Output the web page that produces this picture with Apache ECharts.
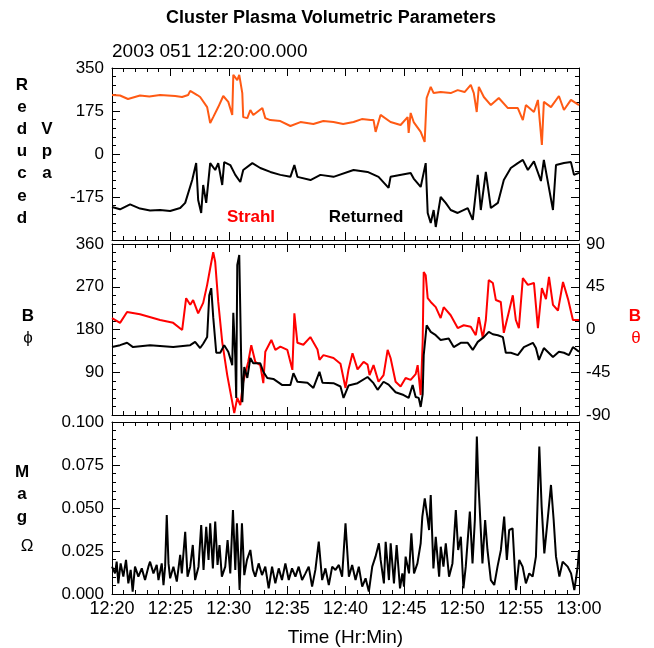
<!DOCTYPE html>
<html>
<head>
<meta charset="utf-8">
<script src="https://cdn.jsdelivr.net/npm/echarts@6/dist/echarts.min.js"></script>
<style>
  html, body { margin: 0; padding: 0; background: #fff; }
  #chart { width: 654px; height: 648px; }
</style>
</head>
<body>
<div id="chart"></div>
<script>
// minutes after 12:20:00
const timeTicks = ['12:20', '12:25', '12:30', '12:35', '12:40', '12:45', '12:50', '12:55', '13:00'];

// Reduced Vpa, strahl electrons
const strahlTime = [0.00, 0.69, 1.37, 2.40, 3.20, 4.12, 5.41, 6.00, 6.52, 6.70, 7.30, 7.55, 8.15, 8.41, 8.67, 9.10, 9.53, 9.96, 10.30,
  10.39, 10.56, 10.73, 10.90, 11.16, 11.24, 11.59, 11.85, 12.10, 12.88, 13.13, 13.56, 14.42, 15.28, 16.14, 17.25, 18.10, 18.97,
  19.80, 20.69, 21.40, 22.15, 22.40, 22.58, 23.00, 23.86, 24.72, 25.32, 25.41, 25.58, 25.84, 26.44, 26.78, 26.95, 27.30, 27.55,
  28.15, 29.01, 29.61, 30.20, 30.73, 30.99, 31.24, 31.42, 31.85, 32.45, 33.13, 33.91, 34.76, 35.19, 35.45, 36.14, 36.48, 36.82,
  36.99, 37.60, 38.28, 38.71, 39.31, 40.00];
const strahlVpa = [240, 238, 224, 238, 234, 240, 236, 232, 240, 257, 240, 232, 191, 126, 150, 191, 236, 212, 159,
  322, 330, 301, 322, 248, 150, 146, 179, 159, 187, 146, 138, 134, 114, 130, 122, 134, 130,
  122, 130, 142, 138, 138, 90, 159, 130, 118, 150, 86, 167, 130, 90, 49, 228, 273, 248,
  252, 248, 260, 252, 281, 248, 171, 273, 232, 199, 228, 187, 187, 138, 199, 171, 220, 37,
  212, 191, 236, 179, 220, 199];

// Reduced Vpa, returned electrons
const returnedTime = [0.00, 0.69, 1.55, 2.40, 3.26, 4.12, 4.98, 5.84, 6.27, 6.87, 7.21, 7.38, 7.64, 7.81, 8.07, 8.41, 8.84, 9.10,
  9.44, 9.61, 10.13, 10.56, 10.99, 11.24, 12.02, 12.70, 13.56, 14.42, 15.28, 15.62, 15.88, 17.00, 17.85, 18.97, 20.69, 21.89,
  22.83, 23.69, 23.86, 25.58, 25.84, 26.44, 26.87, 27.04, 27.30, 27.55, 27.73, 28.15, 28.58, 29.01, 29.61, 30.47, 30.90, 31.33,
  31.59, 32.02, 32.45, 33.05, 33.56, 34.16, 34.76, 35.19, 35.62, 36.14, 36.74, 36.99, 37.77, 38.03, 38.71, 39.31, 39.57, 40.00];
const returnedVpa = [-216, -225, -205, -222, -230, -228, -232, -220, -199, -106, -37, -187, -240, -126, -199, -37, -65, -37,
  -126, -33, -45, -85, -114, -65, -37, -57, -73, -85, -93, -45, -93, -106, -85, -93, -65, -73,
  -93, -138, -93, -77, -100, -134, -37, -240, -281, -228, -297, -175, -199, -228, -240, -220, -268, -85,
  -228, -73, -220, -199, -106, -57, -37, -24, -65, -30, -110, -24, -228, -45, -37, -33, -85, -77];

// B phi (deg), left axis of middle panel
const phiTime = [0.00, 0.69, 1.29, 1.80, 3.26, 5.24, 6.70, 7.12, 7.55, 7.81, 8.15, 8.33, 8.50, 8.67, 8.93, 9.27, 9.61, 9.96, 10.30,
  10.39, 10.56, 10.64, 10.73, 10.90, 11.07, 11.16, 11.33, 11.59, 11.85, 12.10, 12.70, 12.96, 13.30, 13.82, 14.59, 15.28, 15.54,
  15.88, 16.74, 17.25, 17.77, 18.03, 18.97, 19.57, 19.83, 20.26, 21.03, 21.89, 22.40, 22.75, 23.26, 23.69, 24.29, 24.98, 25.41,
  25.75, 26.01, 26.27, 26.44, 26.61, 26.70, 26.95, 27.30, 27.73, 28.15, 28.84, 29.27, 29.87, 30.47, 30.90, 31.33, 31.85, 32.27,
  32.62, 33.05, 33.48, 33.73, 34.16, 34.76, 35.28, 36.05, 36.31, 36.57, 36.99, 37.77, 38.28, 38.71, 39.14, 39.48, 40.00];
const phiDeg = [143, 147, 152, 143, 147, 143, 147, 154, 141, 150, 164, 252, 267, 206, 131, 131, 147, 133, 105,
  215, 120, 36, 316, 337, 110, 27, 101, 78, 120, 109, 109, 91, 78, 76, 63, 63, 88,
  70, 68, 57, 91, 68, 67, 60, 36, 62, 67, 80, 67, 53, 70, 64, 48, 42, 36,
  63, 38, 36, 17, 44, 126, 189, 175, 168, 158, 161, 143, 152, 152, 137, 154, 164, 175,
  170, 168, 164, 131, 131, 126, 143, 152, 141, 116, 141, 122, 133, 131, 126, 143, 133];

// B theta (deg), right axis of middle panel
const thetaTime = [0.00, 0.69, 1.29, 2.40, 4.12, 5.24, 6.01, 6.35, 6.70, 6.95, 7.38, 7.81, 8.15, 8.41, 8.67, 8.84, 9.10, 9.44, 9.87,
  10.30, 10.47, 10.73, 10.99, 11.24, 11.67, 11.93, 12.27, 12.70, 12.96, 13.13, 13.65, 13.99, 14.42, 15.02, 15.45, 15.62, 15.88,
  16.39, 16.99, 17.60, 17.77, 18.11, 18.97, 19.57, 20.00, 20.26, 20.60, 21.03, 21.55, 21.89, 22.06, 22.40, 22.83, 23.26, 23.61,
  23.86, 24.29, 24.72, 25.15, 25.58, 26.01, 26.18, 26.44, 26.61, 26.70, 26.87, 27.04, 27.30, 27.73, 28.15, 28.41, 29.01, 29.61,
  30.13, 30.73, 31.16, 31.42, 31.76, 32.02, 32.27, 32.62, 32.88, 33.30, 33.56, 33.99, 34.33, 34.59, 34.85, 35.19, 35.62, 36.14,
  36.48, 36.82, 37.17, 37.43, 37.77, 38.20, 38.63, 39.06, 39.48, 40.00];
const thetaDeg = [12, 7, 18.5, 16, 10, 7, -0.5, 33, 26, 31, 17, 28, 47, 64.5, 81.5, 71, 29, -13, -48,
  -76.5, -88, -72, -79.5, -55, -34, -16.5, -34, -37.5, -56.5, -23.5, -11, -21.5, -18, -21.5, -42.5, 17, -14,
  -16, -8, -21, -32, -27, -30, -36, -61.5, -42, -25, -42, -34, -37, -48, -37.5, -55, -48, -21.5,
  -30, -55, -60, -51, -53, -47, -37.5, -69, -13, 60.5, 57, 33, 29, 23.5, 12, 23.5, 15, 1.5,
  4.5, 3, -6, 13, -9, 10, 52, 49, 31, 29, -3.5, 18.5, 36, 10, 1.5, 54, 47, 49,
  1.5, 43.5, 32, 55.5, 26, 20, 50, 32, 10, 10];

// Mag Omega
const magTime = [0.00, 0.26, 0.40, 0.54, 0.74, 0.97, 1.20, 1.40, 1.60, 1.77, 1.97, 2.26, 2.55, 2.83, 3.12, 3.26, 3.55, 3.83, 3.98,
  4.26, 4.41, 4.55, 4.69, 4.84, 4.98, 5.26, 5.55, 5.84, 5.98, 6.27, 6.47, 6.70, 6.92, 7.12, 7.41, 7.64, 7.84, 8.07, 8.27, 8.41,
  8.64, 8.84, 9.04, 9.21, 9.41, 9.70, 9.90, 10.13, 10.36, 10.56, 10.70, 10.93, 11.13, 11.33, 11.56, 11.85, 12.07, 12.27, 12.56,
  12.85, 13.13, 13.42, 13.71, 13.99, 14.28, 14.56, 14.85, 15.14, 15.42, 15.71, 15.99, 16.28, 16.57, 16.85, 17.14, 17.42, 17.71,
  18.00, 18.28, 18.57, 18.86, 19.14, 19.43, 19.71, 20.00, 20.29, 20.57, 20.86, 21.14, 21.43, 21.72, 22.00, 22.29, 22.57, 22.86,
  23.01, 23.29, 23.44, 23.72, 23.87, 24.15, 24.38, 24.67, 24.87, 25.01, 25.15, 25.44, 25.64, 25.87, 26.16, 26.44, 26.58, 26.79,
  27.01, 27.16, 27.30, 27.53, 27.73, 28.02, 28.16, 28.39, 28.59, 28.87, 29.16, 29.45, 29.65, 29.88, 30.10, 30.30, 30.65, 30.88,
  31.08, 31.25, 31.36, 31.53, 31.73, 31.96, 32.16, 32.45, 32.74, 33.02, 33.31, 33.59, 33.82, 34.02, 34.31, 34.60, 34.88, 35.17,
  35.45, 35.74, 36.03, 36.31, 36.60, 36.80, 37.03, 37.31, 37.60, 37.83, 38.03, 38.32, 38.60, 39.03, 39.32, 39.60, 39.89, 40.00];
const magOmega = [0.0159, 0.0120, 0.0188, 0.0062, 0.0178, 0.0101, 0.0198, 0.0062, 0.0140, 0.0014, 0.0159, 0.0101, 0.0149, 0.0081,
  0.0159, 0.0188, 0.0120, 0.0169, 0.0081, 0.0178, 0.0052, 0.0159, 0.0459, 0.0178, 0.0091, 0.0159, 0.0072, 0.0227, 0.0120,
  0.0362, 0.0101, 0.0159, 0.0285, 0.0081, 0.0159, 0.0401, 0.0140, 0.0391, 0.0198, 0.0411, 0.0149, 0.0421, 0.0169, 0.0285,
  0.0101, 0.0159, 0.0314, 0.0120, 0.0488, 0.0140, 0.0411, 0.0023, 0.0411, 0.0110, 0.0198, 0.0256, 0.0140, 0.0101, 0.0178,
  0.0110, 0.0159, 0.0033, 0.0159, 0.0062, 0.0149, 0.0081, 0.0178, 0.0081, 0.0149, 0.0101, 0.0159, 0.0081, 0.0120, 0.0159,
  0.0043, 0.0140, 0.0304, 0.0081, 0.0149, 0.0052, 0.0159, 0.0140, 0.0169, 0.0101, 0.0411, 0.0101, 0.0169, 0.0081, 0.0159,
  0.0043, 0.0091, 0.0014, 0.0159, 0.0217, 0.0295, 0.0198, 0.0062, 0.0304, 0.0081, 0.0295, 0.0062, 0.0285, 0.0033, 0.0120,
  0.0043, 0.0217, 0.0120, 0.0353, 0.0120, 0.0178, 0.0295, 0.0450, 0.0556, 0.0450, 0.0372, 0.0576, 0.0149, 0.0333, 0.0101,
  0.0275, 0.0159, 0.0295, 0.0101, 0.0178, 0.0488, 0.0256, 0.0333, 0.0033, 0.0159, 0.0479, 0.0178, 0.0430, 0.0915, 0.0682,
  0.0450, 0.0178, 0.0430, 0.0256, 0.0081, 0.0052, 0.0159, 0.0256, 0.0450, 0.0198, 0.0372, 0.0382, 0.0023, 0.0198, 0.0159,
  0.0062, 0.0120, 0.0101, 0.0217, 0.0857, 0.0508, 0.0236, 0.0430, 0.0634, 0.0430, 0.0217, 0.0101, 0.0188, 0.0159, 0.0120,
  0.0023, 0.0159, 0.0256];

const zip = (t, v) => t.map((x, i) => [x, v[i]]);

const FONT = 'Liberation Sans';
const INK = '#000';

function xAx(grid, pos, withLabels) {
  return {
    type: 'value', gridIndex: grid, position: pos, min: 0, max: 40, interval: 5,
    axisLine: { show: true, onZero: false, lineStyle: { color: INK, width: 1 } },
    axisTick: { show: true, inside: true, length: 8, lineStyle: { color: INK } },
    minorTick: { show: true, splitNumber: 5, length: 4, lineStyle: { color: INK } },
    splitLine: { show: false },
    axisLabel: withLabels ? {
      show: true, margin: 6, color: INK, fontFamily: FONT, fontSize: 18,
      formatter: v => timeTicks[Math.round(v / 5)]
    } : { show: false },
    name: withLabels ? 'Time (Hr:Min)' : '',
    nameLocation: 'middle', nameGap: 34,
    nameTextStyle: { color: INK, fontFamily: FONT, fontSize: 19 }
  };
}

function yAx(grid, pos, min, max, interval, labels) {
  const base = {
    type: 'value', gridIndex: grid, position: pos, min: min, max: max, interval: interval,
    axisLine: { show: true, onZero: false, lineStyle: { color: INK, width: 1 } },
    axisTick: { show: true, inside: true, length: 8, lineStyle: { color: INK } },
    minorTick: { show: true, splitNumber: 5, length: 4, lineStyle: { color: INK } },
    splitLine: { show: false },
    axisLabel: { show: false }
  };
  if (labels) {
    base.axisLabel = Object.assign({ show: true, margin: 8, color: INK, fontFamily: FONT, fontSize: 17 }, labels);
  }
  return base;
}

function txt(x, y, text, opts) {
  const o = opts || {};
  return {
    type: 'text', x: x, y: y, silent: true,
    style: {
      text: text, fill: o.color || INK,
      font: (o.bold === false ? '' : 'bold ') + (o.size || 17) + 'px "' + FONT + '"',
      textAlign: o.align || 'center', textVerticalAlign: 'middle',
      align: o.align || 'center', verticalAlign: 'middle'
    }
  };
}

const chart = echarts.init(document.getElementById('chart'));

const graphics = [
  txt(331, 18, 'Cluster Plasma Volumetric Parameters', { size: 18 }),
  txt(112, 52, '2003 051 12:20:00.000', { bold: false, align: 'left', size: 19 }),
  txt(251, 217, 'Strahl', { color: '#ff0000' }),
  txt(366, 217, 'Returned'),
  txt(28, 316, 'B'),
  txt(28, 338, '\u03d5', { bold: false }),
  txt(635, 316, 'B', { color: '#ff0000' }),
  txt(636, 338, '\u03b8', { bold: false, color: '#ff0000' }),
  txt(27, 546, '\u03a9', { bold: false })
];
['R', 'e', 'd', 'u', 'c', 'e', 'd'].forEach((c, i) => graphics.push(txt(22, 85 + i * 22.2, c)));
['V', 'p', 'a'].forEach((c, i) => graphics.push(txt(47, 129 + i * 22.2, c)));
['M', 'a', 'g'].forEach((c, i) => graphics.push(txt(22, 472 + i * 22.5, c)));

const option = {
  animation: false,
  backgroundColor: '#fff',
  grid: [
    { left: 112, top: 68, width: 467, height: 172 },
    { left: 112, top: 244, width: 467, height: 171 },
    { left: 112, top: 422, width: 467, height: 172 }
  ],
  xAxis: [
    xAx(0, 'bottom', false), xAx(0, 'top', false),
    xAx(1, 'bottom', false), xAx(1, 'top', false),
    xAx(2, 'bottom', true), xAx(2, 'top', false)
  ],
  yAxis: [
    yAx(0, 'left', -350, 350, 175, { showMinLabel: false }),
    yAx(0, 'right', -350, 350, 175, null),
    yAx(1, 'left', 0, 360, 90, { showMinLabel: false }),
    yAx(1, 'right', -90, 90, 45, { margin: 7 }),
    yAx(2, 'left', 0, 0.1, 0.025, { formatter: v => v.toFixed(3) }),
    yAx(2, 'right', 0, 0.1, 0.025, null)
  ],
  series: [
    { name: 'Strahl', type: 'line', xAxisIndex: 0, yAxisIndex: 0, data: zip(strahlTime, strahlVpa),
      showSymbol: false, lineStyle: { color: '#ff5a14', width: 2 } },
    { name: 'Returned', type: 'line', xAxisIndex: 0, yAxisIndex: 0, data: zip(returnedTime, returnedVpa),
      showSymbol: false, lineStyle: { color: '#000', width: 2 } },
    { name: 'B theta', type: 'line', xAxisIndex: 2, yAxisIndex: 3, data: zip(thetaTime, thetaDeg),
      showSymbol: false, lineStyle: { color: '#ff0000', width: 2 } },
    { name: 'B phi', type: 'line', xAxisIndex: 2, yAxisIndex: 2, data: zip(phiTime, phiDeg),
      showSymbol: false, lineStyle: { color: '#000', width: 2 } },
    { name: 'Mag', type: 'line', xAxisIndex: 4, yAxisIndex: 4, data: zip(magTime, magOmega),
      showSymbol: false, lineStyle: { color: '#000', width: 2 } }
  ],
  graphic: graphics
};

chart.setOption(option);
</script>
</body>
</html>
